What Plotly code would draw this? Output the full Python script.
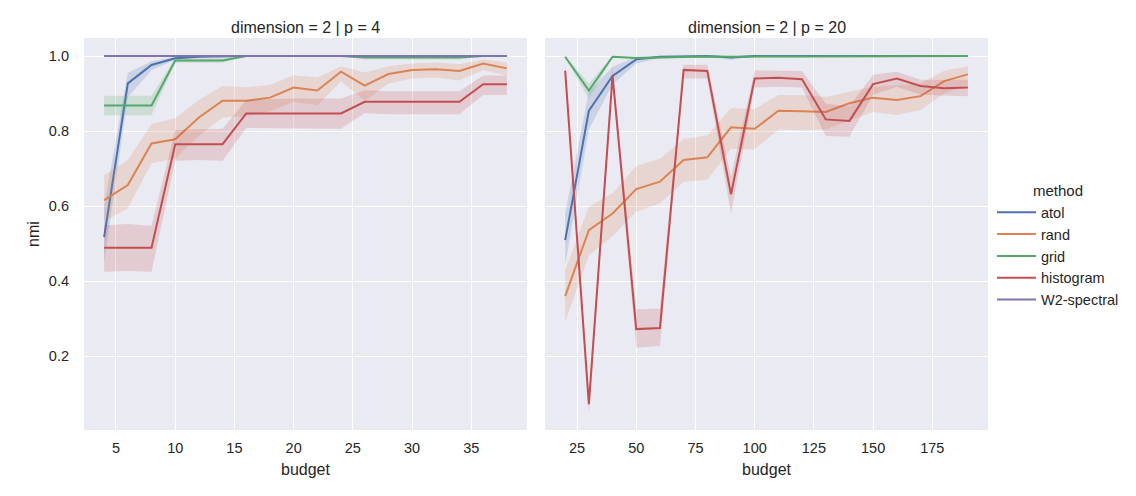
import plotly.graph_objects as go
from plotly.subplots import make_subplots

# budgets per facet
budget_p4 = [4, 6, 8, 10, 12, 14, 16, 18, 20, 22, 24, 26, 28, 30, 32, 34, 36, 38]
budget_p20 = [20, 30, 40, 50, 60, 70, 80, 90, 100, 110, 120, 130, 140, 150, 160, 170, 180, 190]

# dimension = 2 | p = 4  (mean, ci low, ci high)
atol_p4 = [0.517, 0.927, 0.976, 0.994, 0.998, 1.0, 1.0, 1.0, 1.0, 1.0, 1.0, 1.0, 1.0, 1.0, 1.0, 1.0, 1.0, 1.0]
atol_p4_lo = [0.45, 0.89, 0.962, 0.99, 0.996, 1.0, 1.0, 1.0, 1.0, 1.0, 1.0, 1.0, 1.0, 1.0, 1.0, 1.0, 1.0, 1.0]
atol_p4_hi = [0.60, 0.955, 0.986, 0.998, 1.0, 1.0, 1.0, 1.0, 1.0, 1.0, 1.0, 1.0, 1.0, 1.0, 1.0, 1.0, 1.0, 1.0]

rand_p4 = [0.616, 0.656, 0.767, 0.778, 0.836, 0.881, 0.881, 0.889, 0.916, 0.908, 0.958, 0.921, 0.952, 0.963, 0.965, 0.96, 0.98, 0.967]
rand_p4_lo = [0.558, 0.594, 0.714, 0.727, 0.787, 0.836, 0.84, 0.853, 0.878, 0.869, 0.933, 0.881, 0.927, 0.94, 0.943, 0.935, 0.963, 0.948]
rand_p4_hi = [0.683, 0.723, 0.819, 0.834, 0.883, 0.92, 0.917, 0.923, 0.949, 0.943, 0.973, 0.956, 0.973, 0.98, 0.983, 0.978, 0.991, 0.983]

grid_p4 = [0.868, 0.868, 0.868, 0.988, 0.988, 0.988, 1.0, 1.0, 1.0, 1.0, 1.0, 0.996, 0.996, 0.996, 0.996, 0.996, 1.0, 1.0]
grid_p4_lo = [0.842, 0.842, 0.842, 0.982, 0.982, 0.982, 1.0, 1.0, 1.0, 1.0, 1.0, 0.991, 0.991, 0.991, 0.991, 0.991, 1.0, 1.0]
grid_p4_hi = [0.894, 0.894, 0.894, 0.994, 0.994, 0.994, 1.0, 1.0, 1.0, 1.0, 1.0, 1.0, 1.0, 1.0, 1.0, 1.0, 1.0, 1.0]

hist_p4 = [0.489, 0.489, 0.489, 0.765, 0.765, 0.765, 0.847, 0.847, 0.848, 0.847, 0.847, 0.878, 0.878, 0.878, 0.878, 0.878, 0.925, 0.925]
hist_p4_lo = [0.425, 0.427, 0.425, 0.721, 0.723, 0.721, 0.808, 0.806, 0.807, 0.807, 0.806, 0.848, 0.845, 0.845, 0.845, 0.845, 0.896, 0.896]
hist_p4_hi = [0.549, 0.552, 0.547, 0.803, 0.805, 0.806, 0.883, 0.886, 0.887, 0.887, 0.887, 0.909, 0.906, 0.906, 0.906, 0.906, 0.948, 0.948]

w2_p4 = [1.0] * 18

# dimension = 2 | p = 20
atol_p20 = [0.509, 0.854, 0.947, 0.991, 0.998, 1.0, 1.0, 0.996, 1.0, 1.0, 1.0, 1.0, 1.0, 1.0, 1.0, 1.0, 1.0, 1.0]
atol_p20_lo = [0.443, 0.804, 0.924, 0.98, 0.995, 0.999, 0.999, 0.99, 0.999, 1.0, 1.0, 1.0, 1.0, 1.0, 1.0, 1.0, 1.0, 1.0]
atol_p20_hi = [0.58, 0.905, 0.971, 0.998, 1.0, 1.0, 1.0, 1.0, 1.0, 1.0, 1.0, 1.0, 1.0, 1.0, 1.0, 1.0, 1.0, 1.0]

rand_p20 = [0.36, 0.536, 0.58, 0.645, 0.665, 0.723, 0.73, 0.81, 0.806, 0.854, 0.853, 0.851, 0.874, 0.889, 0.883, 0.893, 0.933, 0.951]
rand_p20_lo = [0.291, 0.469, 0.52, 0.585, 0.607, 0.665, 0.67, 0.753, 0.751, 0.804, 0.802, 0.804, 0.829, 0.851, 0.843, 0.856, 0.9, 0.924]
rand_p20_hi = [0.429, 0.598, 0.634, 0.707, 0.726, 0.779, 0.788, 0.861, 0.859, 0.896, 0.896, 0.891, 0.905, 0.918, 0.922, 0.927, 0.961, 0.973]

grid_p20 = [0.998, 0.908, 0.998, 0.995, 0.996, 0.998, 0.999, 0.998, 0.999, 0.999, 0.999, 0.999, 1.0, 0.999, 0.999, 1.0, 1.0, 1.0]
grid_p20_lo = [0.995, 0.887, 0.996, 0.992, 0.993, 0.996, 0.997, 0.996, 0.997, 0.997, 0.997, 0.997, 0.998, 0.997, 0.997, 0.998, 0.998, 0.998]
grid_p20_hi = [1.0, 0.927, 1.0, 0.998, 0.999, 1.0, 1.0, 1.0, 1.0, 1.0, 1.0, 1.0, 1.0, 1.0, 1.0, 1.0, 1.0, 1.0]

hist_p20 = [0.961, 0.072, 0.947, 0.272, 0.275, 0.963, 0.96, 0.631, 0.94, 0.942, 0.938, 0.831, 0.827, 0.925, 0.94, 0.92, 0.914, 0.916]
hist_p20_lo = [0.94, 0.047, 0.93, 0.222, 0.227, 0.94, 0.94, 0.58, 0.916, 0.918, 0.916, 0.787, 0.785, 0.897, 0.918, 0.897, 0.895, 0.893]
hist_p20_hi = [0.975, 0.1, 0.97, 0.325, 0.326, 0.977, 0.977, 0.678, 0.962, 0.962, 0.96, 0.873, 0.866, 0.95, 0.958, 0.937, 0.937, 0.937]

methods = ['atol', 'rand', 'grid', 'histogram', 'W2-spectral']
colors = {
    'atol': '#4c72b0',
    'rand': '#dd8452',
    'grid': '#55a868',
    'histogram': '#c44e52',
    'W2-spectral': '#8172b3',
}
bands = {
    'atol': 'rgba(76,114,176,0.2)',
    'rand': 'rgba(221,132,82,0.2)',
    'grid': 'rgba(85,168,104,0.2)',
    'histogram': 'rgba(196,78,82,0.2)',
    'W2-spectral': 'rgba(129,114,179,0.2)',
}

facets = [
    (budget_p4, {
        'atol': (atol_p4, atol_p4_lo, atol_p4_hi),
        'rand': (rand_p4, rand_p4_lo, rand_p4_hi),
        'grid': (grid_p4, grid_p4_lo, grid_p4_hi),
        'histogram': (hist_p4, hist_p4_lo, hist_p4_hi),
        'W2-spectral': (w2_p4, w2_p4, w2_p4),
    }),
    (budget_p20, {
        'atol': (atol_p20, atol_p20_lo, atol_p20_hi),
        'rand': (rand_p20, rand_p20_lo, rand_p20_hi),
        'grid': (grid_p20, grid_p20_lo, grid_p20_hi),
        'histogram': (hist_p20, hist_p20_lo, hist_p20_hi),
    }),
]

text_color = '#262626'
font_family = 'Liberation Sans, Arial, sans-serif'

fig = make_subplots(
    rows=1,
    cols=2,
    shared_yaxes=True,
    horizontal_spacing=0.02,
    subplot_titles=('dimension = 2 | p = 4', 'dimension = 2 | p = 20'),
)

for col, (budgets, series) in enumerate(facets, start=1):
    for m in methods:
        if m not in series:
            continue
        mean, lo, hi = series[m]
        fig.add_trace(
            go.Scatter(
                x=budgets,
                y=mean,
                mode='lines',
                line={'color': colors[m], 'width': 2},
                name=m,
                legendgroup=m,
                showlegend=(col == 1),
                hoverinfo='skip',
            ),
            row=1,
            col=col,
        )
        fig.add_trace(
            go.Scatter(
                x=budgets + budgets[::-1],
                y=hi + lo[::-1],
                fill='toself',
                fillcolor=bands[m],
                line={'width': 0},
                mode='lines',
                legendgroup=m,
                showlegend=False,
                hoverinfo='skip',
            ),
            row=1,
            col=col,
        )

# the page puts the figure 8px in from the top-left corner, margins account for that
fig.update_layout(
    width=1136,
    height=496,
    paper_bgcolor='white',
    plot_bgcolor='#eaeaf2',
    font={'family': font_family, 'size': 14.5, 'color': text_color},
    margin=dict(l=76, r=156, t=30, b=74, autoexpand=False),
    legend={
        'x': 1.0044,
        'xanchor': 'left',
        'y': 0.646,
        'yanchor': 'top',
        'font': {'size': 14.5},
        'title': {'text': 'method', 'side': 'top center', 'font': {'size': 15}},
        'bgcolor': 'rgba(0,0,0,0)',
        'tracegroupgap': 0,
        'itemwidth': 39,
    },
)

for ann in fig.layout.annotations:
    ann.font = {'size': 16, 'color': text_color, 'family': font_family}
    ann.yshift = 0

fig.update_xaxes(
    showgrid=True,
    gridcolor='white',
    gridwidth=1.3,
    zeroline=False,
    showline=False,
    ticks='',
    automargin=False,
    ticklabelstandoff=7,
    title={'text': 'budget', 'font': {'size': 16}, 'standoff': 9},
)
fig.update_xaxes(range=[2.3, 39.7], tickvals=[5, 10, 15, 20, 25, 30, 35], row=1, col=1)
fig.update_xaxes(range=[11.5, 198.5], tickvals=[25, 50, 75, 100, 125, 150, 175], row=1, col=2)

fig.update_yaxes(
    showgrid=True,
    gridcolor='white',
    gridwidth=1.3,
    zeroline=False,
    showline=False,
    ticks='',
    automargin=False,
    range=[0.003, 1.048],
    tickvals=[0.2, 0.4, 0.6, 0.8, 1.0],
    ticktext=['0.2', '0.4', '0.6', '0.8', '1.0'],
)
fig.update_yaxes(ticklabelstandoff=14, title={'text': 'nmi', 'font': {'size': 16}, 'standoff': 5}, row=1, col=1)

fig.write_html('out.html')
